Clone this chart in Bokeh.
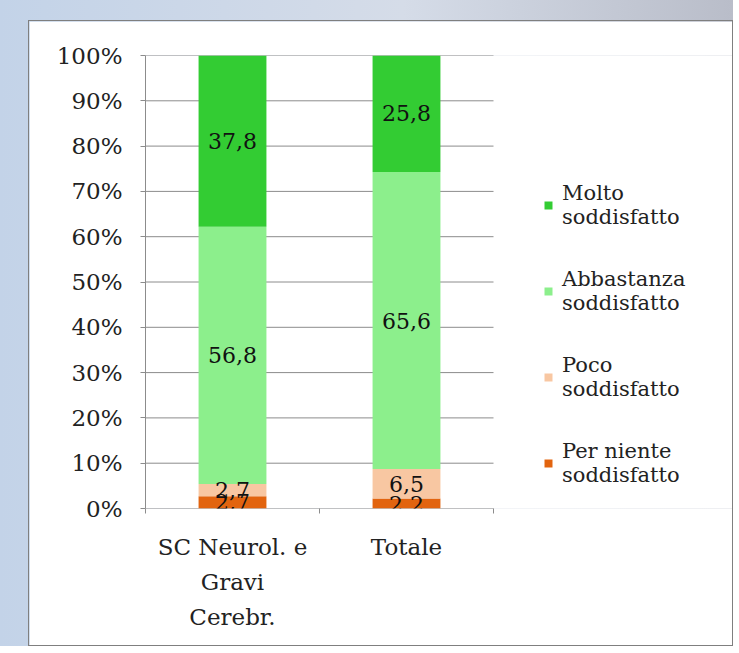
from bokeh.plotting import figure
from bokeh.models import Range1d, FixedTicker, PrintfTickFormatter, Legend, LegendItem, ColumnDataSource
from bokeh.layouts import column
from bokeh.core.properties import value
from bokeh.embed import file_html
from bokeh.resources import INLINE

# ---- data ----
categories = ["SC Neurol. e\nGravi\nCerebr.", "Totale"]
series = ["Per niente soddisfatto", "Poco soddisfatto", "Abbastanza soddisfatto", "Molto soddisfatto"]
legend_labels = ["Per niente\nsoddisfatto", "Poco\nsoddisfatto", "Abbastanza\nsoddisfatto", "Molto\nsoddisfatto"]
per_niente = [2.7, 2.2]
poco = [2.7, 6.5]
abbastanza = [56.8, 65.6]
molto = [37.8, 25.8]
y_ticks = [0, 10, 20, 30, 40, 50, 60, 70, 80, 90, 100]
colors = ["#e2640f", "#f8c7a2", "#8cef8c", "#33cc33"]

FONT = "DejaVu Serif"
W, H = 705, 626
ML, MR, MT, MB = 116, 2, 34, 139
BAR_AREA_PX = 348  # width of the category area; legend lives to its right
frame_w = W - ML - MR
n = len(categories)

p = figure(width=W, height=H, output_backend="svg", toolbar_location=None,
           x_range=Range1d(0, n * frame_w / BAR_AREA_PX), y_range=Range1d(0, 100),
           min_border_left=ML, min_border_right=MR, min_border_top=MT, min_border_bottom=MB,
           background_fill_color="white", border_fill_color="white", outline_line_color=None)
p.styles = {"border": "1px solid #7f7f7f"}

# gridlines only across the category area
p.segment(x0=[0] * len(y_ticks), x1=[n] * len(y_ticks), y0=y_ticks, y1=y_ticks,
          line_color="#8c8c8c", line_width=1)

xs = [i + 0.5 for i in range(n)]
bottom = [0.0] * n
renderers = []
lbl_x, lbl_y, lbl_t = [], [], []
for name, vals, col in zip(series, [per_niente, poco, abbastanza, molto], colors):
    top = [b + v for b, v in zip(bottom, vals)]
    src = ColumnDataSource(dict(x=xs, bottom=bottom, top=top))
    r = p.vbar(x="x", bottom="bottom", top="top", width=0.39, source=src,
               fill_color=col, line_color=None)
    renderers.append(r)
    for x, b, v in zip(xs, bottom, vals):
        lbl_x.append(x)
        lbl_y.append(b + v / 2)
        lbl_t.append(f"{v:.1f}".replace(".", ","))
    bottom = top

p.text(x=lbl_x, y=lbl_y, text=lbl_t, text_align="center", text_baseline="middle",
       text_font=value(FONT), text_font_size="22px", text_color="#111111")

# axes
p.yaxis.ticker = FixedTicker(ticks=y_ticks)
p.yaxis.formatter = PrintfTickFormatter(format="%d%%")
p.yaxis.major_label_text_font = FONT
p.yaxis.major_label_text_font_size = "23px"
p.yaxis.major_label_text_color = "#222222"
p.yaxis.major_label_standoff = 18
p.yaxis.major_tick_in = 0
p.yaxis.major_tick_out = 5
p.yaxis.minor_tick_line_color = None
p.yaxis.axis_line_color = "#8c8c8c"
p.yaxis.major_tick_line_color = "#8c8c8c"

p.xaxis.ticker = FixedTicker(ticks=xs, minor_ticks=list(range(n + 1)))
p.xaxis.major_label_overrides = {x: c for x, c in zip(xs, categories)}
p.xaxis.major_label_text_font = FONT
p.xaxis.major_label_text_font_size = "23px"
p.xaxis.major_label_text_line_height = 1.35
p.xaxis.major_label_text_color = "#222222"
p.xaxis.major_label_standoff = 19
p.xaxis.major_tick_line_color = None
p.xaxis.minor_tick_in = 0
p.xaxis.minor_tick_out = 5
p.xaxis.minor_tick_line_color = "#8c8c8c"
p.xaxis.axis_line_color = None

p.xgrid.grid_line_color = None
p.ygrid.grid_line_color = None

items = [LegendItem(label=l, renderers=[r]) for l, r in zip(legend_labels, renderers)][::-1]
legend = Legend(items=items, location=(BAR_AREA_PX + 50, 21), background_fill_alpha=0,
                border_line_color=None,
                label_text_font=FONT, label_text_font_size="21px", label_text_color="#222222",
                glyph_width=10, glyph_height=10, label_standoff=9, spacing=38, padding=0,
                margin=0)
p.add_layout(legend, "center")

layout = column(p, styles={"background": "linear-gradient(90deg, #c3d3e8 0%, #d5dce8 55%, #b9bdc9 100%)",
                           "padding": "20px 0px 0px 28px"})

open("out.html", "w").write(file_html(layout, INLINE))
